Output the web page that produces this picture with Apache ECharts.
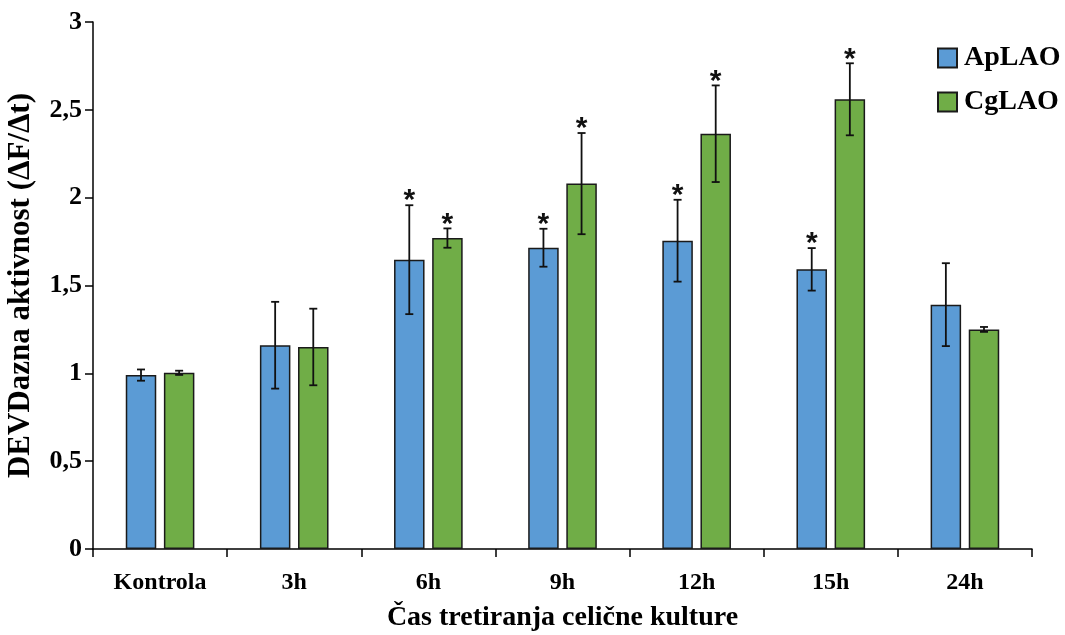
<!DOCTYPE html>
<html>
<head>
<meta charset="utf-8">
<script src="https://cdn.jsdelivr.net/npm/echarts@6/dist/echarts.min.js"></script>
<style>html,body{margin:0;padding:0;background:#fff}#c{width:1065px;height:635px}</style>
</head>
<body>
<div id="c"></div>
<script>
var categories = ['Kontrola', '3h', '6h', '9h', '12h', '15h', '24h'];
var apValues = [0.99, 1.16, 1.647, 1.715, 1.755, 1.592, 1.391];
var apErrors = [0.032, 0.247, 0.31, 0.108, 0.233, 0.121, 0.236];
var apSig = [0, 0, 1, 1, 1, 1, 0];
var cgValues = [1.003, 1.15, 1.77, 2.08, 2.364, 2.56, 1.25];
var cgErrors = [0.012, 0.218, 0.055, 0.288, 0.275, 0.205, 0.014];
var cgSig = [0, 0, 1, 1, 1, 1, 0];
var yTickLabels = {'0': '0', '0.5': '0,5', '1': '1', '1.5': '1,5', '2': '2', '2.5': '2,5', '3': '3'};

var SERIF = 'Liberation Serif';
var BAR_W = 30.5;
var BAR_GAP = '25%';
var OFFSET = (BAR_W + BAR_W * 0.25) / 2;

function errSeries(name, values, errors, sig, dir) {
  var data = values.map(function (v, i) { return [i, v, errors[i], sig[i]]; });
  return {
    type: 'custom',
    name: name,
    data: data,
    z: 10,
    encode: { x: 0, y: 1 },
    renderItem: function (params, api) {
      var i = api.value(0), v = api.value(1), e = api.value(2), s = api.value(3);
      var top = api.coord([i, v + e]);
      var bot = api.coord([i, v - e]);
      var x = top[0] + dir * OFFSET;
      var cap = 4;
      var st = { stroke: '#111', lineWidth: 1.8 };
      var children = [
        { type: 'line', shape: { x1: x, y1: top[1], x2: x, y2: bot[1] }, style: st },
        { type: 'line', shape: { x1: x - cap, y1: top[1], x2: x + cap, y2: top[1] }, style: st },
        { type: 'line', shape: { x1: x - cap, y1: bot[1], x2: x + cap, y2: bot[1] }, style: st }
      ];
      if (s) {
        children.push({
          type: 'text',
          style: {
            text: '*', x: x, y: top[1] - 4,
            align: 'center', verticalAlign: 'middle',
            font: 'bold 30px "Liberation Sans"', fill: '#111'
          }
        });
      }
      return { type: 'group', children: children };
    }
  };
}

var chart = echarts.init(document.getElementById('c'), null, { renderer: 'canvas' });
chart.setOption({
  animation: false,
  backgroundColor: '#fff',
  grid: { left: 93, right: 33, top: 22, bottom: 86, containLabel: false, outerBoundsMode: 'none' },
  legend: {
    data: ['ApLAO', 'CgLAO'],
    orient: 'vertical',
    left: 937,
    top: 44,
    padding: 0,
    itemWidth: 19,
    itemHeight: 19,
    itemGap: 16,
    icon: 'rect',
    selectedMode: false,
    textStyle: { fontFamily: SERIF, fontWeight: 'bold', fontSize: 28, color: '#000', padding: [0, 0, 0, 2], lineHeight: 28 }
  },
  xAxis: {
    type: 'category',
    data: categories,
    boundaryGap: true,
    axisLine: { lineStyle: { color: '#000', width: 1.5 } },
    axisTick: { show: true, length: 8, lineStyle: { color: '#000', width: 1.5 } },
    axisLabel: { fontFamily: SERIF, fontWeight: 'bold', fontSize: 24, color: '#000', margin: 22 },
    name: 'Čas tretiranja celične kulture',
    nameLocation: 'middle',
    nameGap: 55,
    nameTextStyle: { fontFamily: SERIF, fontWeight: 'bold', fontSize: 28, color: '#000' }
  },
  yAxis: {
    type: 'value',
    min: 0, max: 3, interval: 0.5,
    splitLine: { show: false },
    axisLine: { show: true, lineStyle: { color: '#000', width: 1.5 } },
    axisTick: { show: true, length: 8, inside: false, lineStyle: { color: '#000', width: 1.5 } },
    axisLabel: {
      fontFamily: SERIF, fontWeight: 'bold', fontSize: 26, color: '#000', margin: 11,
      formatter: function (v) { return yTickLabels[String(v)] !== undefined ? yTickLabels[String(v)] : String(v); }
    },
    name: 'DEVDazna aktivnost (ΔF/Δt)',
    nameLocation: 'middle',
    nameGap: 57,
    nameTextStyle: { fontFamily: SERIF, fontWeight: 'bold', fontSize: 31, color: '#000' }
  },
  series: [
    {
      type: 'bar', name: 'ApLAO', data: apValues,
      barWidth: BAR_W, barGap: BAR_GAP,
      itemStyle: { color: '#5B9BD5', borderColor: '#1a1a1a', borderWidth: 1.5 }
    },
    {
      type: 'bar', name: 'CgLAO', data: cgValues,
      barWidth: BAR_W, barGap: BAR_GAP,
      itemStyle: { color: '#70AD47', borderColor: '#1a1a1a', borderWidth: 1.5 }
    },
    errSeries('ApLAO err', apValues, apErrors, apSig, -1),
    errSeries('CgLAO err', cgValues, cgErrors, cgSig, 1)
  ]
});
</script>
</body>
</html>
